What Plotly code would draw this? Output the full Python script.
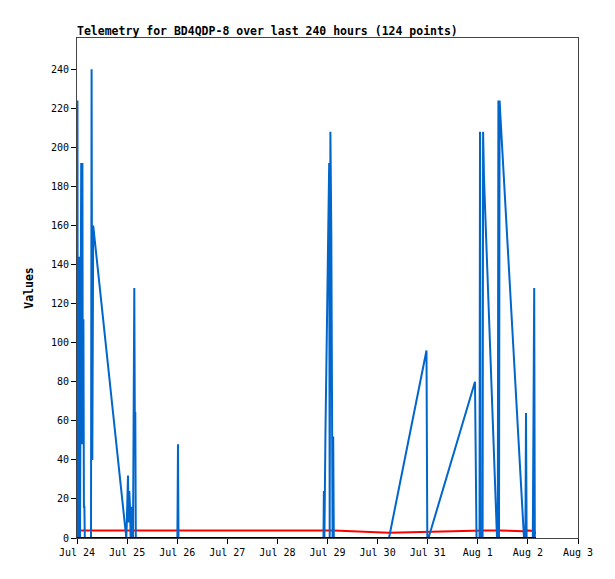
import pandas as pd
import plotly.graph_objects as go

# sample times, hours after Jul 24 00:00
hours = [
    0.05, 0.22, 0.40, 0.55, 0.70, 0.85, 0.98, 1.10, 1.24, 1.44,
    1.68, 2.01, 2.20, 2.59, 2.78, 3.07, 3.31, 3.54, 3.74, 6.71,
    6.99, 7.33, 7.76,
    23.62, 23.86, 24.10, 24.43, 24.72, 25.05, 25.39, 25.68, 25.96, 26.25,
    26.83, 27.11, 27.45, 27.69, 27.93, 28.17,
    34.97, 42.15, 48.09, 48.38, 48.62, 58.92, 73.29, 87.66, 102.04, 111.62,
    118.08, 118.27, 118.51, 119.04, 119.47, 119.95, 120.38, 120.81, 121.05,
    121.39, 121.82, 122.20, 122.44, 122.73, 123.02,
    149.46, 167.42, 167.81, 168.38, 190.66, 190.99, 191.38,
    192.82, 193.06, 193.34, 194.30, 194.54, 194.97, 201.20, 201.58, 201.87,
    202.16, 202.44, 202.83, 214.13, 214.80, 215.09, 215.38,
    218.35, 218.59, 219.02, 219.31, 219.88,
]

values = [
    0, 224, 0, 80, 0, 80, 0, 80, 144, 0,
    144, 192, 48, 192, 48, 112, 16, 16, 0, 0,
    240, 40, 160,
    0, 8, 24, 32, 8, 24, 16, 0, 16, 0,
    0, 64, 128, 64, 64, 0,
    0, 0, 0, 48, 0, 0, 0, 0, 0, 0,
    0, 24, 0, 56, 96, 136, 172, 192, 0,
    208, 156, 52, 0, 52, 0,
    0, 96, 0, 0, 80, 40, 0,
    0, 208, 0, 0, 208, 184, 0, 0, 224,
    0, 224, 216, 0, 0, 64, 0,
    0, 64, 128, 0, 0,
]

voltage = [
    3.8, 3.8, 3.8, 3.8, 3.8, 3.8, 3.8, 3.8, 3.8, 3.8,
    3.8, 3.8, 3.8, 3.8, 3.8, 3.8, 3.8, 3.8, 3.8, 3.8,
    3.8, 3.8, 3.8,
    3.8, 3.8, 3.8, 3.8, 3.8, 3.8, 3.8, 3.8, 3.8, 3.8,
    3.8, 3.8, 3.8, 3.8, 3.8, 3.8,
    3.8, 3.8, 3.8, 3.8, 3.8, 3.8, 3.8, 3.8, 3.8, 3.8,
    3.9, 3.9, 3.9, 3.9, 3.9, 3.9, 3.9, 3.9, 3.9,
    3.9, 3.9, 3.9, 3.9, 3.9, 3.9,
    2.7, 3.3, 3.3, 3.3, 3.9, 3.9, 3.9,
    3.9, 3.9, 3.9, 3.9, 3.9, 3.9, 3.9, 3.9, 3.9,
    3.9, 3.9, 3.9, 3.4, 3.4, 3.9, 3.9,
    3.9, 3.9, 3.6, 2.6, 2.6,
]

baseline = [0] * len(hours)

x_ticks = ["2025-07-%02d" % d for d in range(24, 32)] + ["2025-08-01", "2025-08-02", "2025-08-03"]

times = pd.Timestamp("2025-07-24") + pd.to_timedelta(hours, unit="h")

MONO = "DejaVu Sans Mono, Liberation Mono, monospace"

fig = go.Figure()
fig.add_trace(go.Scatter(x=times, y=voltage, mode="lines",
                         line=dict(color="#ff0000", width=2), name="ch2"))
fig.add_trace(go.Scatter(x=times, y=values, mode="lines",
                         line=dict(color="#0066cc", width=2), name="ch1"))
fig.add_trace(go.Scatter(x=times, y=baseline, mode="lines",
                         line=dict(color="#000000", width=2), name="ch3"))

# page body adds an 8px offset, margins account for it
fig.update_layout(
    width=615, height=579,
    margin=dict(l=69, r=45, t=30, b=49),
    paper_bgcolor="white", plot_bgcolor="white",
    showlegend=False,
    font=dict(family=MONO, size=10, color="black"),
    title=dict(text="<b>Telemetry for BD4QDP-8 over last 240 hours (124 points)</b>",
               x=69 / 615, xanchor="left", y=1 - 23 / 579, yanchor="middle",
               font=dict(family=MONO, size=11.5, color="black")),
)
fig.update_xaxes(
    type="date", range=["2025-07-24", "2025-08-03"],
    tickvals=x_ticks, tickformat="%b %-d",
    ticks="outside", ticklen=5, tickcolor="black",
    showline=True, linecolor="#444", linewidth=1, mirror=True,
    showgrid=False, zeroline=False,
)
fig.update_yaxes(
    range=[0, 256], tick0=0, dtick=20,
    ticks="outside", ticklen=5, tickcolor="black",
    showline=True, linecolor="#444", linewidth=1, mirror=True,
    showgrid=False, zeroline=False,
    title=dict(text="<b>Values</b>", standoff=14, font=dict(family=MONO, size=11.5)),
)

fig.write_html("out.html")
